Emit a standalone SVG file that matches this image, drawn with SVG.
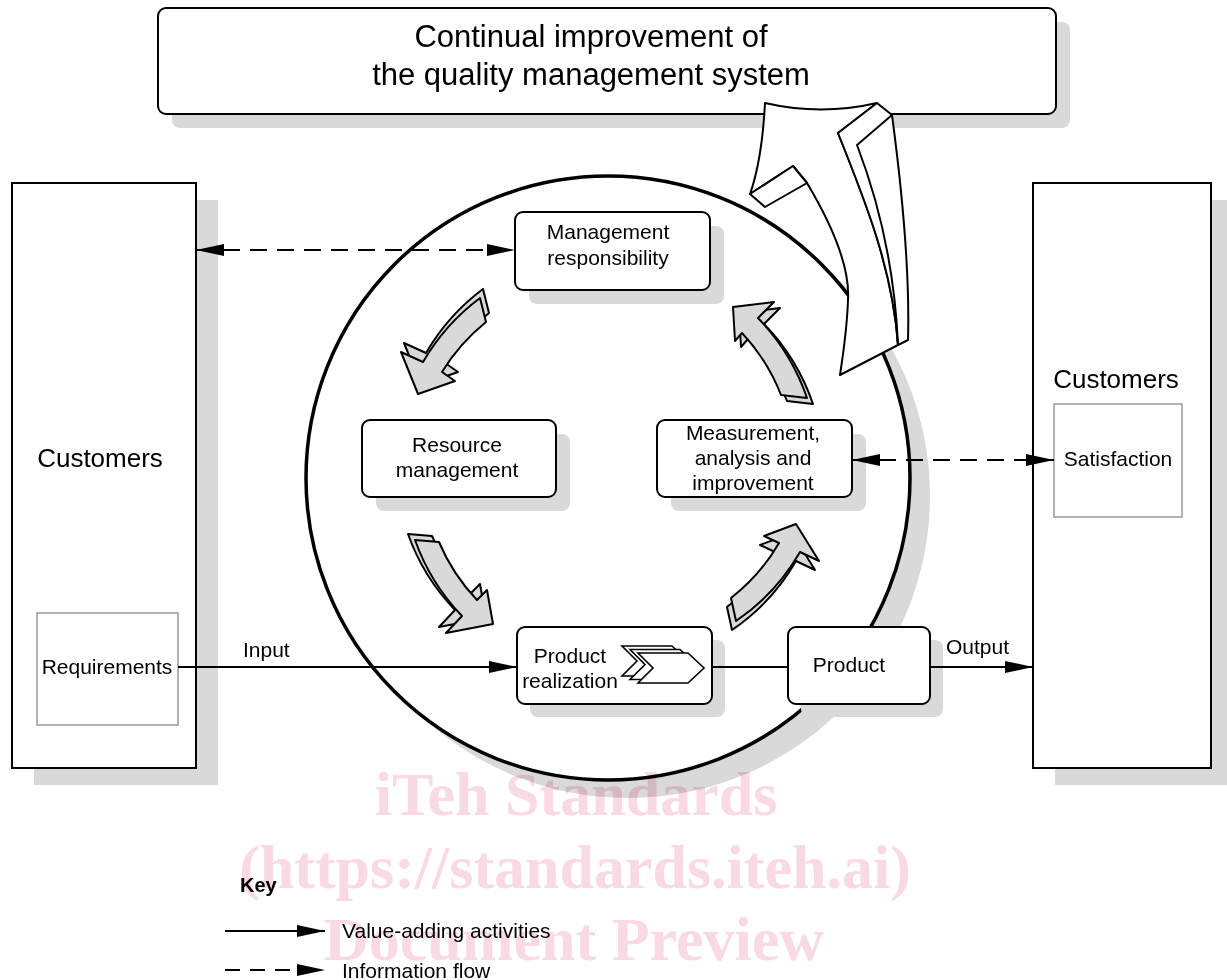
<svg xmlns="http://www.w3.org/2000/svg" width="1227" height="980" viewBox="0 0 1227 980">
<style>
 .sh{fill:#d9d9d9}
 .box{fill:#fff;stroke:#000;stroke-width:2}
 .sub{fill:#fff;stroke:#9a9a9a;stroke-width:1.5}
 text{font-family:"Liberation Sans",Arial,sans-serif;fill:#000}
 .t{font-size:21px;text-anchor:middle}
 .lbl{font-size:21px}
 .big{font-size:31px;text-anchor:middle}
 .cust{font-size:26px;text-anchor:middle}
 .ln{stroke:#000;stroke-width:2;fill:none}
 .dash{stroke-dasharray:17 10}
 .garr{fill:#d9d9d9;stroke:#000;stroke-width:2;stroke-linejoin:round}
 .warr{fill:#fff;stroke:#000;stroke-width:2;stroke-linejoin:round}
 .chev{fill:#fff;stroke:#000;stroke-width:1.6;stroke-linejoin:miter}
 .wm{font-family:"Liberation Serif","Times New Roman",serif;font-weight:bold;font-size:62px;fill:#f9d9e2;text-anchor:middle}
</style>
<defs>
 <marker id="ah" markerUnits="userSpaceOnUse" markerWidth="30" markerHeight="12" refX="28" refY="6" orient="auto-start-reverse" viewBox="0 0 30 12"><path d="M0,0 L28,6 L0,12 Z" fill="#000"/></marker>
 <path id="a1" d="M480,298 A215,215 0 0 0 423,362 L401,352 L418,394 L455,381 L442,372 A195,195 0 0 1 486,322 Z"/>
 <path id="a2" d="M415,540 A212,212 0 0 0 462,616 L446,633 L493,624 L487,590 L477,600 A192,192 0 0 1 439,542 Z"/>
 <path id="a3" d="M731,598 A190,190 0 0 0 779,543 L764,536 L796,524 L819,561 L800,552 A210,210 0 0 1 736,621 Z"/>
 <path id="a4" d="M807,398 A214,214 0 0 0 758,318 L774,302 L733,307 L735,341 L742,333 A194,194 0 0 1 781,395 Z"/>
 <path id="chevron" d="M638,653 L688,653 L704,668 L688,683 L638,683 L653,668 Z"/>
</defs>

<g id="top-box">
 <rect class="sh" x="172" y="22" width="898" height="106" rx="8"/>
 <rect class="box" x="158" y="8" width="898" height="106" rx="8"/>
 <text class="big" x="591" y="47">Continual improvement of</text>
 <text class="big" x="591" y="85">the quality management system</text>
</g>

<g id="customers-left">
 <rect class="sh" x="34" y="200" width="184" height="585"/>
 <rect class="box" x="12" y="183" width="184" height="585"/>
 <text class="cust" x="100" y="467">Customers</text>
</g>
<g id="requirements">
 <rect class="sub" x="37" y="613" width="141" height="112"/>
 <text class="t" x="107" y="674">Requirements</text>
</g>

<g id="customers-right">
 <rect class="sh" x="1055" y="200" width="178" height="585"/>
 <rect class="box" x="1033" y="183" width="178" height="585"/>
 <text class="cust" x="1116" y="388">Customers</text>
</g>
<g id="satisfaction">
 <rect class="sub" x="1054" y="404" width="128" height="113"/>
 <text class="t" x="1118" y="466">Satisfaction</text>
</g>

<g id="process-circle">
 <circle class="sh" cx="628" cy="496" r="302"/>
 <circle cx="608" cy="478" r="302" fill="#fff" stroke="#000" stroke-width="3.5"/>
</g>

<g id="management-responsibility">
 <rect class="sh" x="529" y="226" width="195" height="78" rx="8"/>
 <rect class="box" x="515" y="212" width="195" height="78" rx="8"/>
 <text class="t" x="608" y="239">Management</text>
 <text class="t" x="608" y="265">responsibility</text>
</g>
<g id="resource-management">
 <rect class="sh" x="376" y="434" width="194" height="77" rx="8"/>
 <rect class="box" x="362" y="420" width="194" height="77" rx="8"/>
 <text class="t" x="457" y="452">Resource</text>
 <text class="t" x="457" y="477">management</text>
</g>
<g id="measurement-analysis-improvement">
 <rect class="sh" x="671" y="434" width="195" height="77" rx="8"/>
 <rect class="box" x="657" y="420" width="195" height="77" rx="8"/>
 <text class="t" x="753" y="440">Measurement,</text>
 <text class="t" x="753" y="465">analysis and</text>
 <text class="t" x="753" y="490">improvement</text>
</g>
<g id="product-realization">
 <rect class="sh" x="530" y="640" width="195" height="77" rx="8"/>
 <rect class="box" x="517" y="627" width="195" height="77" rx="8"/>
 <text class="t" x="570" y="663">Product</text>
 <text class="t" x="570" y="688">realization</text>
 <use href="#chevron" class="chev" transform="translate(-16,-7)"/>
 <use href="#chevron" class="chev" transform="translate(-8,-3.5)"/>
 <use href="#chevron" class="chev"/>
</g>
<g id="product">
 <rect class="sh" x="801" y="640" width="142" height="77" rx="8"/>
 <rect class="box" x="788" y="627" width="142" height="77" rx="8"/>
 <text class="t" x="849" y="672">Product</text>
</g>

<g id="cycle-arrows">
 <use href="#a1" class="garr" transform="translate(3,-9)"/>
 <use href="#a1" class="garr"/>
 <use href="#a2" class="garr" transform="translate(-7,-6)"/>
 <use href="#a2" class="garr"/>
 <use href="#a3" class="garr" transform="translate(-4,9)"/>
 <use href="#a3" class="garr"/>
 <use href="#a4" class="garr" transform="translate(6,6)"/>
 <use href="#a4" class="garr"/>
</g>

<g id="connectors" class="ln">
 <line class="dash" x1="196" y1="250" x2="515" y2="250" marker-start="url(#ah)" marker-end="url(#ah)"/>
 <line class="dash" x1="852" y1="460" x2="1054" y2="460" marker-start="url(#ah)" marker-end="url(#ah)"/>
 <line x1="178" y1="667" x2="517" y2="667" marker-end="url(#ah)"/>
 <line x1="712" y1="667" x2="788" y2="667"/>
 <line x1="930" y1="667" x2="1033" y2="667" marker-end="url(#ah)"/>
</g>
<g id="connector-labels">
 <text class="lbl" x="243" y="657">Input</text>
 <text class="lbl" x="946" y="654">Output</text>
</g>

<g id="improvement-arrow">
 <path class="warr" d="M765,103 Q821,116 877,103 L838,133 C865,200 893,270 898,345 L840,375 C843,355 847,330 848,300 C850,270 835,230 807,183 L793,166 L750,194 Q762,160 765,103 Z"/>
 <path class="warr" d="M877,103 L892,115 C902,190 910,270 908,340 L898,345 C893,270 865,200 838,133 Z"/>
 <path class="ln" d="M892,115 L857,145 C880,205 895,275 898,345"/>
 <path class="warr" d="M750,194 L793,166 L807,183 L765,207 Z"/>
</g>

<g id="watermark" style="mix-blend-mode:multiply">
 <text class="wm" x="576" y="815">iTeh Standards</text>
 <text class="wm" x="575" y="888">(https://standards.iteh.ai)</text>
 <text class="wm" x="574" y="960">Document Preview</text>
</g>

<g id="key">
 <text x="240" y="892" style="font-size:20px;font-weight:bold">Key</text>
 <line class="ln" x1="225" y1="931" x2="325" y2="931" marker-end="url(#ah)"/>
 <text class="lbl" x="342" y="938">Value-adding activities</text>
 <line class="ln" x1="225" y1="970" x2="325" y2="970" style="stroke-dasharray:15 10" marker-end="url(#ah)"/>
 <text class="lbl" x="342" y="978">Information flow</text>
</g>
</svg>
